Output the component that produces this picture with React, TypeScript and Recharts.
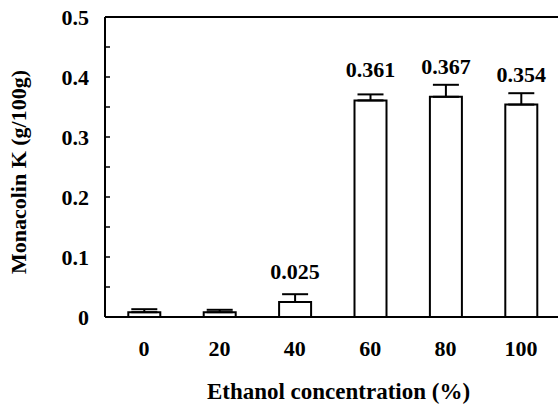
import { Bar, BarChart, ErrorBar, Label, LabelList, ReferenceLine, XAxis, YAxis } from "recharts";

const concentrations = ["0", "20", "40", "60", "80", "100"];
const monacolinK = [0.008, 0.008, 0.025, 0.361, 0.367, 0.354];
const errors = [0.005, 0.004, 0.013, 0.01, 0.02, 0.019];
const valueLabels = ["", "", "0.025", "0.361", "0.367", "0.354"];
const yTicks = [0, 0.05, 0.1, 0.15, 0.2, 0.25, 0.3, 0.35, 0.4, 0.45, 0.5];

const FONT = "Liberation Serif, Times New Roman, serif";
const textStyle = { fontFamily: FONT, fontWeight: 700 };

const data = concentrations.map((name, i) => ({
	name,
	value: monacolinK[i],
	err: [0, errors[i]],
	label: valueLabels[i],
}));

function YTick(props: any) {
	const { x, y, payload } = props;
	const v = payload.value as number;
	const major = Math.abs(v * 10 - Math.round(v * 10)) < 1e-6;
	return (
		<g>
			<line x1={x} x2={x + 5} y1={y} y2={y} stroke="#000" strokeWidth={1.5} />
			{major && (
				<text
					x={x - 16}
					y={y}
					dy="0.35em"
					textAnchor="end"
					style={textStyle}
					fontSize={22}
					fill="#000"
				>
					{v === 0 ? "0" : v.toFixed(1)}
				</text>
			)}
		</g>
	);
}

export default function App() {
	return (
		<div
			style={{
				position: "absolute",
				left: 0,
				top: 0,
				width: 558,
				height: 407,
				overflow: "hidden",
				background: "#fff",
				fontFamily: FONT,
				fontWeight: 700,
			}}
		>
			<BarChart
				width={600}
				height={407}
				data={data}
				margin={{ top: 17, right: 0, left: 0, bottom: 0 }}
				style={textStyle}
			>
				<XAxis
					dataKey="name"
					height={90}
					axisLine={{ stroke: "#000", strokeWidth: 2 }}
					tickLine={false}
					tickSize={0}
					tickMargin={23}
					padding={{ left: 1.3, right: 41.3 }}
					tick={{ fill: "#000", fontSize: 22, style: textStyle }}
				>
					<Label
						value="Ethanol concentration (%)"
						position="insideBottom"
						offset={8}
						dx={-14}
						fill="#000"
						fontSize={23}
						style={textStyle}
					/>
				</XAxis>
				<YAxis
					width={105}
					domain={[0, 0.5]}
					ticks={yTicks}
					interval={0}
					tickSize={0}
					tickMargin={0}
					tickLine={false}
					axisLine={{ stroke: "#000", strokeWidth: 2 }}
					tick={<YTick />}
				>
					<Label
						content={() => (
							<text
								x={26}
								y={172}
								transform="rotate(-90, 26, 172)"
								textAnchor="middle"
								style={textStyle}
								fontSize={22}
								fill="#000"
							>
								Monacolin K (g/100g)
							</text>
						)}
					/>
				</YAxis>
				<ReferenceLine y={0.5} stroke="#000" strokeWidth={2} />
				<Bar
					dataKey="value"
					barSize={32}
					fill="#fff"
					stroke="#000"
					strokeWidth={2}
					isAnimationActive={false}
				>
					<ErrorBar dataKey="err" width={13} stroke="#000" strokeWidth={2} direction="y" />
					<LabelList
						dataKey="label"
						position="top"
						offset={23}
						fill="#000"
						fontSize={22}
						style={textStyle}
					/>
				</Bar>
			</BarChart>
		</div>
	);
}
